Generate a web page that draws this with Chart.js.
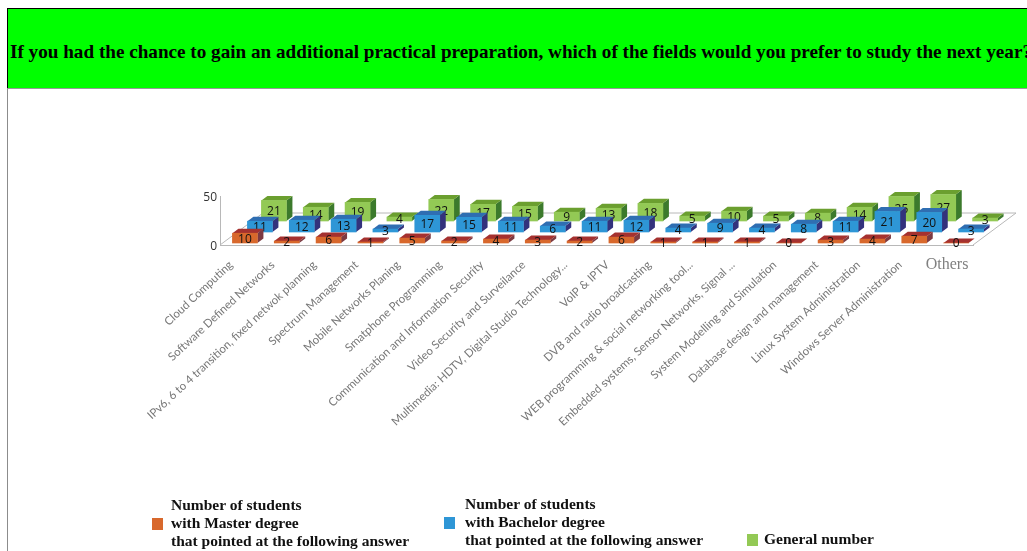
<!DOCTYPE html>
<html>
<head>
<meta charset="utf-8">
<title>Practical preparation survey</title>
<script src="https://cdn.jsdelivr.net/npm/chart.js@4"></script>
<style>
  html, body { margin: 0; padding: 0; background: #fff; overflow: hidden; }
  body { width: 1027px; height: 551px; position: relative; }
  #banner {
    position: absolute; left: 7px; top: 8px; width: 1040px; height: 81px;
    background: #00ff00; border-top: 1px solid #000; border-left: 1px solid #000;
    border-bottom: 1px solid #999; box-sizing: border-box; overflow: hidden;
  }
  #banner h1 {
    position: absolute; left: 2px; top: 32px; margin: 0; white-space: nowrap;
    font: bold 19px "Liberation Serif", serif; color: #000;
    transform-origin: left center; transform: scaleX(1.008);
  }
  #leftline { position: absolute; left: 7px; top: 88px; width: 1px; height: 463px; background: #8c8c8c; }
  canvas { position: absolute; left: 0; top: 0; filter: blur(0.4px); }
  .key { position: absolute; font: bold 15.5px/18px "Liberation Serif", serif; color: #111; white-space: nowrap; }
  .swatch { position: absolute; width: 11px; height: 12px; }
</style>
</head>
<body>
<div id="banner"><h1>If you had the chance to gain an additional practical preparation, which of the fields would you prefer to study the next year?</h1></div>
<div id="leftline"></div>
<canvas id="chart" width="1027" height="551"></canvas>
<script>
const categories = [
  "Cloud Computing",
  "Software Defined Networks",
  "IPv6, 6 to 4 transition, fixed netwok planning",
  "Spectrum Management",
  "Mobile Networks Planing",
  "Smatphone Programming",
  "Communication and Information Security",
  "Video Security and Surveilance",
  "Multimedia: HDTV, Digital Studio Technology...",
  "VoIP & IPTV",
  "DVB and radio broadcasting",
  "WEB programming & social networking tool...",
  "Embedded systems, Sensor Networks, Signal ...",
  "System Modelling and Simulation",
  "Database design and management",
  "Linux System Administration",
  "Windows Server Administration",
  "Others"
];
const master = [10, 2, 6, 1, 5, 2, 4, 3, 2, 6, 1, 1, 1, 0, 3, 4, 7, 0];
const bachelor = [11, 12, 13, 3, 17, 15, 11, 6, 11, 12, 4, 9, 4, 8, 11, 21, 20, 3];
const general = [21, 14, 19, 4, 22, 17, 15, 9, 13, 18, 5, 10, 5, 8, 14, 25, 27, 3];
const legendNames = [
  ["Number of students", "with Master degree", "that pointed at the following answer"],
  ["Number of students", "with Bachelor degree", "that pointed at the following answer"],
  ["General number"]
];
const yTicks = [0, 50];

// colours per row: front, top, side
const frontColors = ["#d8682c", "#2e96d6", "#93c955"];
const topColors = ["#a5312f", "#2f6eb2", "#6b9f2f"];
const sideColors = ["#7c3a42", "#33327c", "#3c7a2c"];
// how far each row sits back from the front of the floor
const rowShift = [[4, -2], [19, -13], [33, -24]];
const barDepth = [6, -4.5];
const floorDepth = [43, -32];

const drawFaces = (ctx, x, y, w, base, row) => {
  let l = x - w / 2, r = x + w / 2;
  ctx.fillStyle = sideColors[row];
  ctx.beginPath();
  ctx.moveTo(r, y);
  ctx.lineTo(r + barDepth[0], y + barDepth[1]);
  ctx.lineTo(r + barDepth[0], base + barDepth[1]);
  ctx.lineTo(r, base);
  ctx.closePath();
  ctx.fill();
  ctx.fillStyle = topColors[row];
  ctx.beginPath();
  ctx.moveTo(l, y);
  ctx.lineTo(r, y);
  ctx.lineTo(r + barDepth[0], y + barDepth[1]);
  ctx.lineTo(l + barDepth[0], y + barDepth[1]);
  ctx.closePath();
  ctx.fill();
};

const bars3d = {
  id: "bars3d",
  beforeDatasetsDraw(chart) {
    // the back and side edges of the floor
    const a = chart.chartArea, ctx = chart.ctx;
    ctx.save();
    ctx.strokeStyle = "#b8b8b8";
    ctx.lineWidth = 1;
    ctx.beginPath();
    ctx.moveTo(a.left, a.bottom);
    ctx.lineTo(a.left + floorDepth[0], a.bottom + floorDepth[1]);
    ctx.lineTo(a.right + floorDepth[0], a.bottom + floorDepth[1]);
    ctx.lineTo(a.right, a.bottom);
    ctx.stroke();
    ctx.restore();
  },
  beforeDatasetDraw(chart, args) {
    const ctx = chart.ctx, row = args.index;
    ctx.save();
    ctx.translate(rowShift[row][0], rowShift[row][1]);
    args.meta.data.forEach((bar) => {
      drawFaces(ctx, bar.x, bar.y, bar.width, bar.base, row);
    });
  },
  afterDatasetDraw(chart, args) {
    const ctx = chart.ctx;
    ctx.fillStyle = "#111";
    ctx.font = '12px "Open Sans", sans-serif';
    ctx.textAlign = "center";
    ctx.textBaseline = "middle";
    args.meta.data.forEach((bar, i) => {
      let value = chart.data.datasets[args.index].data[i];
      ctx.fillText(value, bar.x, (bar.y + bar.base) / 2 + 1);
    });
    ctx.restore();
  },
  afterDraw(chart) {
    // the last category is written flat in a serif face, not slanted
    const ctx = chart.ctx, x = chart.scales.x;
    ctx.save();
    ctx.fillStyle = "#808080";
    ctx.font = '16px "Liberation Serif", serif';
    ctx.textAlign = "center";
    ctx.textBaseline = "middle";
    ctx.fillText(categories[categories.length - 1], x.getPixelForValue(categories.length - 1) - 5, 265);
    ctx.restore();
  }
};

let config = {
  type: "bar",
  data: {
    labels: categories,
    datasets: [master, bachelor, general].map((values, i) => ({
      label: legendNames[i].join(" "),
      data: values,
      backgroundColor: frontColors[i],
      barThickness: 25,
      grouped: false,
      clip: false
    }))
  },
  options: {
    responsive: false,
    animation: false,
    layout: { padding: { left: 0, right: 54, top: 196, bottom: 0 } },
    plugins: { legend: { display: false }, title: { display: false }, tooltip: { enabled: false } },
    scales: {
      x: {
        grid: { display: false },
        border: { color: "#b8b8b8" },
        afterFit: (scale) => { scale.height = 306; },
        ticks: {
          autoSkip: false,
          minRotation: 43,
          maxRotation: 43,
          labelOffset: -10,
          padding: 5,
          color: "#777",
          font: { family: "Lato", size: 11.5 },
          callback: (value, i) => (i == categories.length - 1 ? "" : categories[i])
        }
      },
      y: {
        min: yTicks[0],
        max: yTicks[1],
        grid: { display: false, drawTicks: false },
        border: { color: "#b8b8b8" },
        afterFit: (scale) => { scale.width = 220; },
        afterBuildTicks: (scale) => { scale.ticks = yTicks.map((v) => ({ value: v })); },
        ticks: {
          padding: 3,
          labelOffset: 2,
          color: "#333",
          font: { family: "Open Sans", size: 12 }
        }
      }
    }
  },
  plugins: [bars3d]
};
let chart = new Chart(document.getElementById("chart"), config);

// legend, the text wraps over three lines so it is kept in the page
const legendPlaces = [[152, 171, 496, 518], [444, 465, 495, 517], [747, 764, 530, 534]];
legendNames.forEach((lines, i) => {
  let key = document.createElement("div");
  key.className = "key";
  key.style.left = legendPlaces[i][1] + "px";
  key.style.top = legendPlaces[i][2] + "px";
  key.innerHTML = lines.join("<br>");
  document.body.appendChild(key);
  let swatch = document.createElement("div");
  swatch.className = "swatch";
  swatch.style.left = legendPlaces[i][0] + "px";
  swatch.style.top = legendPlaces[i][3] + "px";
  swatch.style.background = frontColors[i];
  document.body.appendChild(swatch);
});
</script>
</body>
</html>
